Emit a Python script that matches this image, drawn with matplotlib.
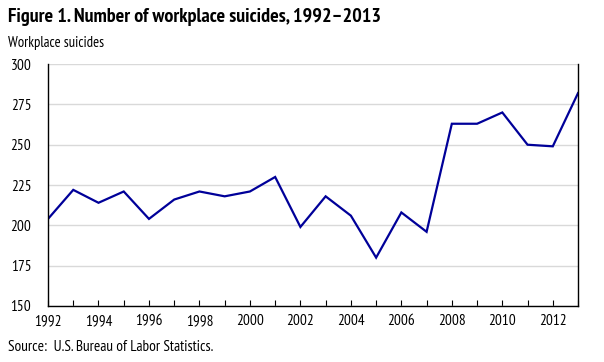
import matplotlib
matplotlib.use("Agg")
import matplotlib.pyplot as plt

years = list(range(1992, 2014))
suicides = [204, 222, 214, 221, 204, 216, 221, 218, 221, 230, 199, 218,
            206, 180, 208, 196, 263, 263, 270, 250, 249, 282]
y_ticks = [150, 175, 200, 225, 250, 275, 300]
x_labels = list(range(1992, 2013, 2))

plt.rcParams['font.family'] = ['PT Sans Narrow', 'DejaVu Sans']

fig = plt.figure(figsize=(6.04, 3.62), dpi=100)
ax = fig.add_axes([0.0795, 0.1547, 0.8775, 0.6683])

ax.plot(years, suicides, color='#000099', linewidth=1.6, solid_joinstyle='miter')

ax.set_xlim(1992, 2013)
ax.set_ylim(150, 300)
ax.set_yticks(y_ticks)
ax.set_xticks(years)
ax.set_xticklabels([str(y) if y in x_labels else '' for y in years])
ax.grid(axis='y', color='#d9d9d9', linewidth=1)
ax.set_axisbelow(True)

ax.tick_params(axis='x', direction='in', length=4, width=0.8, labelsize=11, pad=6)
ax.tick_params(axis='y', length=0, labelsize=11, pad=12)

ax.spines['top'].set_visible(False)
for s in ['left', 'right', 'bottom']:
    ax.spines[s].set_color('black')
    ax.spines[s].set_linewidth(1)

fig.text(0.013, 0.953, 'Figure 1. Number of workplace suicides, 1992\u20132013',
         fontsize=14.5, fontweight='bold', va='center')
fig.text(0.013, 0.88, 'Workplace suicides', fontsize=10.5, va='center')
fig.text(0.013, 0.041, 'Source:  U.S. Bureau of Labor Statistics.', fontsize=11, va='center')

fig.savefig('out.png', dpi=100)
